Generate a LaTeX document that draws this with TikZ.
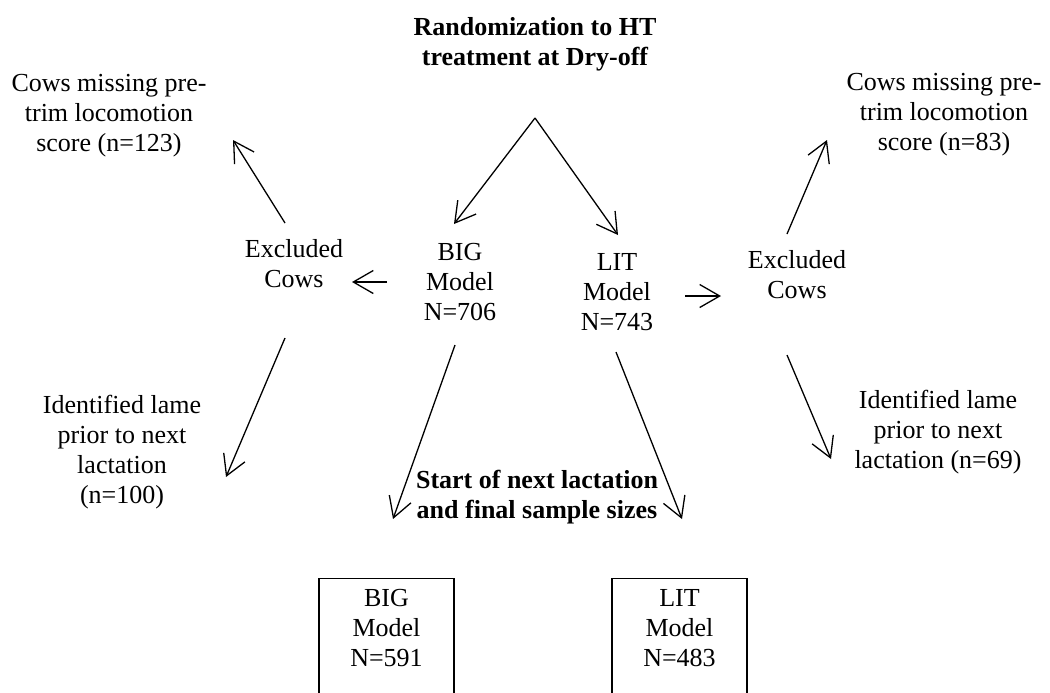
\documentclass[tikz,border=0pt]{standalone}
\usepackage{fontspec}
\setmainfont{Liberation Serif}
\usepackage{tikz}
\usetikzlibrary{
    positioning,
    calc,
    arrows.meta
}
\tikzset{
  basic/.style = {
      align=center,
      inner sep=0pt,
      font=\fontsize{13}{15}\selectfont
  },
  heading/.style = {
      basic,
      font=\fontsize{13}{15}\selectfont\bfseries
  },
  tally/.style = {
      draw,
      line width=0.65pt,
      anchor=north,
      inner sep=0pt,
      minimum width=67.5pt,
      minimum height=80pt
  },
  flow/.style = {
      line width=0.65pt,
      -{Straight Barb[length=10pt,width=11.5pt]}
  }
}

\begin{document}
\begin{tikzpicture}[x=0.5pt, y=-0.5pt]
    \useasboundingbox (0,0) rectangle (1050,692);
    \clip (0,0) rectangle (1050,692);
    % Nodes
    \node[heading] (rand) at (535,44) {Randomization to HT\\treatment at Dry-off};
    \node[basic] (big) at (460,282) {BIG\\Model\\N=706};
    \node[basic] (lit) at (617,292) {LIT\\Model\\N=743};
    \node[basic] (exclL) at (294,264) {Excluded\\Cows};
    \node[basic] (exclR) at (797,275) {Excluded\\Cows};
    \node[basic] (missL) at (109,116) {Cows missing pre-\\trim locomotion\\score (n=123)};
    \node[basic] (missR) at (944,115) {Cows missing pre-\\trim locomotion\\score (n=83)};
    \node[basic] (lameL) at (122,452) {Identified lame\\prior to next\\lactation\\(n=100)};
    \node[basic] (lameR) at (938,432) {Identified lame\\prior to next\\lactation (n=69)};
    \node[heading] (start) at (537,497) {Start of next lactation\\and final sample sizes};
    \node[tally] (bigbox) at (386.5,578) {};
    \node[tally] (litbox) at (679.5,578) {};
    \node[basic] (bigfin) at ($(bigbox.north)+(0,50)$) {BIG\\Model\\N=591};
    \node[basic] (litfin) at ($(litbox.north)+(0,50)$) {LIT\\Model\\N=483};
    \coordinate (split) at ($(rand)+(0,74)$);
    % Edges
    \draw[flow] (split) -- ($(big)+(-6,-58)$);
    \draw[flow] (split) -- ($(lit)+(1,-57)$);
    \draw[flow] ($(big)+(-73,0)$) -- ($(exclL)+(58,18)$);
    \draw[flow] ($(lit)+(68,4)$) -- ($(exclR)+(-76,21)$);
    \draw[flow] ($(exclL)+(-9,-41)$) -- ($(missL)+(124,24)$);
    \draw[flow] ($(exclL)+(-9,74)$) -- ($(lameL)+(104,25)$);
    \draw[flow] ($(exclR)+(-10,-41)$) -- ($(missR)+(-117,25)$);
    \draw[flow] ($(exclR)+(-10,80)$) -- ($(lameR)+(-107,27)$);
    \draw[flow] ($(big)+(-5,63)$) -- ($(start)+(-144,22)$);
    \draw[flow] ($(lit)+(-1,60)$) -- ($(start)+(145,22)$);
\end{tikzpicture}
\end{document}
